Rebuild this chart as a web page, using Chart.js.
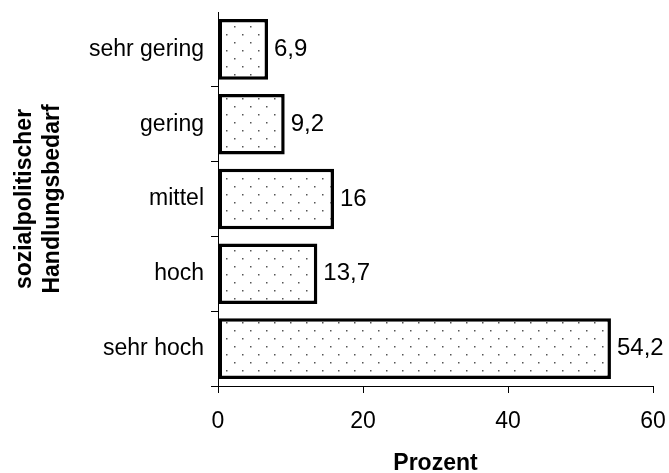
<!DOCTYPE html>
<html>
<head>
<meta charset="utf-8">
<script src="https://cdn.jsdelivr.net/npm/chart.js@4/dist/chart.umd.min.js"></script>
<style>
  html, body { margin: 0; padding: 0; background: #fff; }
  #wrap { width: 669px; height: 473px; }
</style>
</head>
<body>
<div id="wrap"><canvas id="chart" width="669" height="473"></canvas></div>
<script>
// --- Data ---
const categories = ['sehr gering', 'gering', 'mittel', 'hoch', 'sehr hoch'];
const values = [6.9, 9.2, 16, 13.7, 54.2];
const xTicks = [0, 20, 40, 60];
const yTitle = ['sozialpolitischer', 'Handlungsbedarf'];
const xTitle = 'Prozent';

const FONT = "'Liberation Sans', Arial, sans-serif";

// dotted fill like the original
function dotPattern() {
    const c = document.createElement('canvas');
    c.width = 16; c.height = 16;
    const g = c.getContext('2d');
    g.fillStyle = '#fff';
    g.fillRect(0, 0, 16, 16);
    g.fillStyle = '#555';
    g.fillRect(2, 2, 1.5, 1.5);
    g.fillRect(10, 10, 1.5, 1.5);
    return g.createPattern(c, 'repeat');
}

// value labels right of each bar, German decimal comma
const valueLabels = {
    id: 'valueLabels',
    afterDatasetsDraw(chart) {
        const ctx = chart.ctx;
        const meta = chart.getDatasetMeta(0);
        ctx.save();
        ctx.font = '24px ' + FONT;
        ctx.fillStyle = '#000';
        ctx.textAlign = 'left';
        ctx.textBaseline = 'middle';
        meta.data.forEach((bar, i) => {
            ctx.fillText(String(values[i]).replace('.', ','), bar.x + 6, bar.y);
        });
        ctx.restore();
    }
};

new Chart(document.getElementById('chart'), {
    type: 'bar',
    data: {
        labels: categories,
        datasets: [{
            data: values,
            backgroundColor: dotPattern(),
            borderColor: '#000',
            borderWidth: 3.5,
            borderSkipped: false,
            barPercentage: 0.81,
            categoryPercentage: 1
        }]
    },
    options: {
        indexAxis: 'y',
        responsive: false,
        animation: false,
        layout: { padding: { top: 12, right: 16, bottom: 0, left: 0 } },
        plugins: {
            legend: { display: false },
            tooltip: { enabled: false }
        },
        scales: {
            x: {
                min: 0, max: 60,
                afterBuildTicks: s => { s.ticks = xTicks.map(v => ({ value: v })); },
                // fixed axis height, no extra label padding at the sides
                afterFit: s => { s.height = 87; s.paddingLeft = 0; s.paddingRight = 0; },
                grid: { drawOnChartArea: false, color: '#000', tickLength: 7 },
                border: { color: '#000', width: 1 },
                ticks: { color: '#000', font: { family: FONT, size: 23 }, padding: 15, maxRotation: 0 },
                title: {
                    display: true, text: xTitle, color: '#000',
                    font: { family: FONT, size: 23, weight: 'bold', lineHeight: 0.8 },
                    padding: { top: 0, bottom: 0 }
                }
            },
            y: {
                afterFit: s => { s.width = 218; s.paddingTop = 0; s.paddingBottom = 0; },
                grid: {
                    offset: true, drawOnChartArea: false, tickLength: 7,
                    color: c => (c.index === 0 ? 'rgba(0,0,0,0)' : '#000')
                },
                border: { color: '#000', width: 1 },
                ticks: { color: '#000', font: { family: FONT, size: 23 }, padding: 7 },
                title: {
                    display: true, text: yTitle, color: '#000',
                    font: { family: FONT, size: 23, weight: 'bold', lineHeight: 1.2 },
                    padding: { top: 11, bottom: 0 }
                }
            }
        }
    },
    plugins: [valueLabels]
});
</script>
</body>
</html>
